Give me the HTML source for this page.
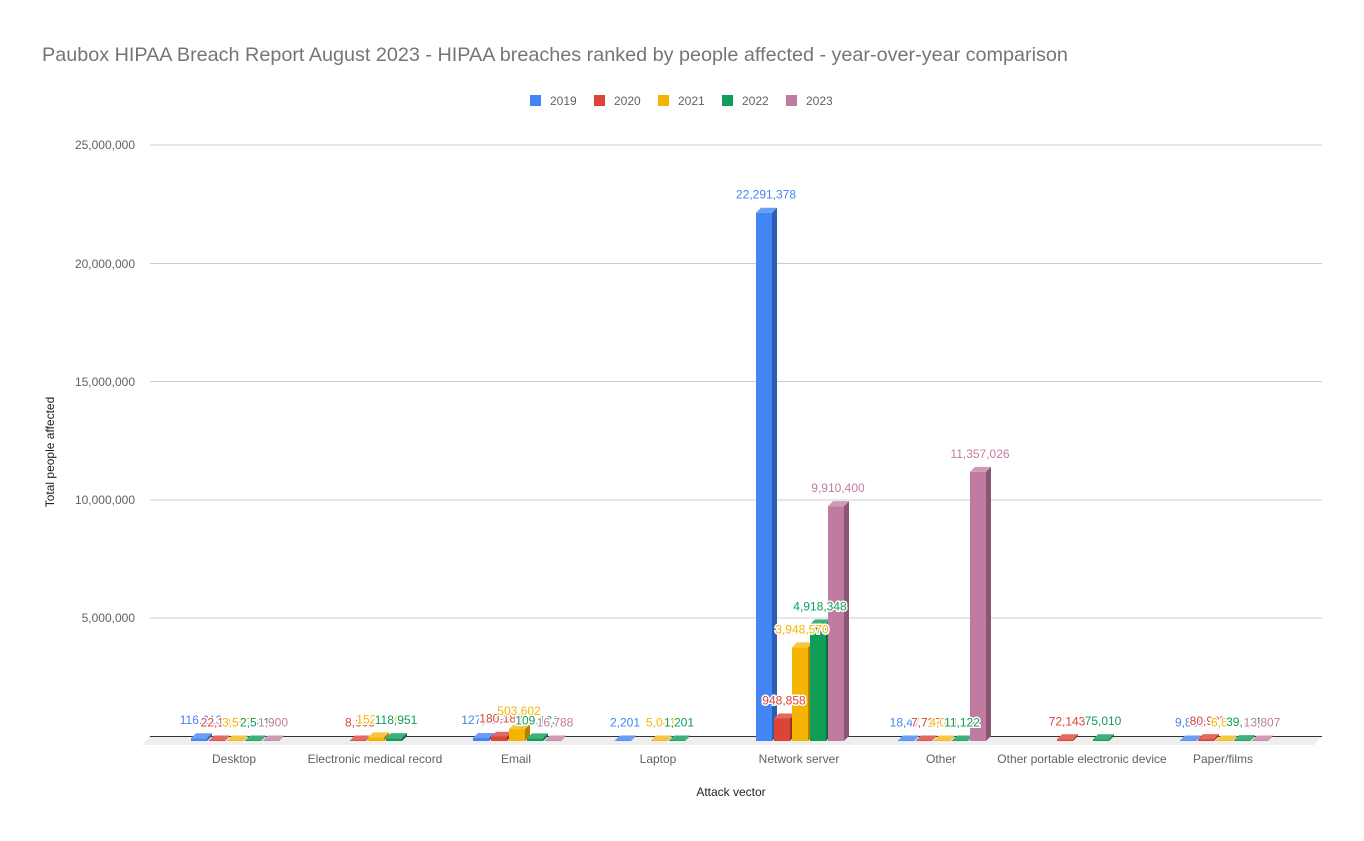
<!DOCTYPE html>
<html><head><meta charset="utf-8"><style>
html,body{margin:0;padding:0;background:#fff;width:1364px;height:841px;overflow:hidden}
svg{display:block;font-family:"Liberation Sans",Arial,sans-serif}
</style></head><body>
<svg id="s" width="1364" height="841" xmlns="http://www.w3.org/2000/svg">
<rect width="1364" height="841" fill="#fff"/>
<text x="42" y="61" font-size="19.8" fill="#757575">Paubox HIPAA Breach Report August 2023 - HIPAA breaches ranked by people affected - year-over-year comparison</text>
<g font-size="12" fill="#616161">
<rect x="530" y="95" width="11" height="11" fill="#4285f4"/><text x="550" y="105">2019</text>
<rect x="594" y="95" width="11" height="11" fill="#db4437"/><text x="614" y="105">2020</text>
<rect x="658" y="95" width="11" height="11" fill="#f4b400"/><text x="678" y="105">2021</text>
<rect x="722" y="95" width="11" height="11" fill="#0f9d58"/><text x="742" y="105">2022</text>
<rect x="786" y="95" width="11" height="11" fill="#c27ba0"/><text x="806" y="105">2023</text>
</g>
<g stroke="#cccccc" stroke-width="1">
<line x1="150" y1="145" x2="1322" y2="145"/><line x1="150" y1="263.5" x2="1322" y2="263.5"/>
<line x1="150" y1="381.5" x2="1322" y2="381.5"/><line x1="150" y1="500" x2="1322" y2="500"/>
<line x1="150" y1="618" x2="1322" y2="618"/>
</g>
<g font-size="12" fill="#616161" text-anchor="end">
<text x="135" y="149">25,000,000</text><text x="135" y="268">20,000,000</text>
<text x="135" y="386">15,000,000</text><text x="135" y="504">10,000,000</text>
<text x="135" y="622">5,000,000</text>
</g>
<polygon points="150,736 1322,736 1314,745 142,745" fill="#eeeeee"/>
<line x1="150" y1="736.5" x2="1322" y2="736.5" stroke="#333" stroke-width="1"/>
<g id="bars"></g>
<g font-size="12" fill="#616161" text-anchor="middle">
<text x="234" y="763">Desktop</text><text x="375" y="763">Electronic medical record</text>
<text x="516" y="763">Email</text><text x="658" y="763">Laptop</text>
<text x="799" y="763">Network server</text><text x="941" y="763">Other</text>
<text x="1082" y="763">Other portable electronic device</text><text x="1223" y="763">Paper/films</text>
<text x="731" y="796" fill="#222">Attack vector</text>
</g>
<text transform="translate(54,452) rotate(-90)" font-size="12" fill="#222" text-anchor="middle">Total people affected</text>
</svg>
<script>
var cols=["#4285f4","#db4437","#f4b400","#0f9d58","#c27ba0"];
var side=["#2f5eb0","#9c3027","#b08200","#0a6e3e","#8a5772"];
var topc=["#6a9ef6","#e26a60","#f6c640","#3fb07a","#d09ab7"];
var d=[
[116213,22135,3552,2581,1900],
[null,8605,152104,118951,null],
[127133,180183,503602,109123,16788],
[2201,null,5041,1201,null],
[22291378,948858,3948570,4918348,9910400],
[18477,7727,4011,11122,11357026],
[null,72143,null,75010,null],
[9880,80925,6839,39211,13807]];
var centers=[236,377,518,660,801,943,1084,1225];
var g=document.getElementById("bars"),h="",lab="";
d.forEach(function(row,i){
 var x0=centers[i]-45;
 row.forEach(function(v,j){
  if(v===null)return;
  var x=x0+j*18,w=16,base=741,hh=Math.max(v*23.7/1e6,0.5),t=base-hh;
  h+='<rect x="'+x+'" y="'+t+'" width="'+w+'" height="'+hh+'" fill="'+cols[j]+'"/>';
  h+='<polygon points="'+(x+w)+','+t+' '+(x+w+5)+','+(t-5)+' '+(x+w+5)+','+(base-5)+' '+(x+w)+','+base+'" fill="'+side[j]+'"/>';
  h+='<polygon points="'+x+','+t+' '+(x+5)+','+(t-5)+' '+(x+w+5)+','+(t-5)+' '+(x+w)+','+t+'" fill="'+topc[j]+'"/>';
  var s=v.toLocaleString("en-US");
  lab+='<text x="'+(x+10)+'" y="'+(t-14)+'" font-size="12" text-anchor="middle" fill="'+cols[j]+'" stroke="#fff" stroke-width="3" paint-order="stroke">'+s+'</text>';
 });
});
g.innerHTML=h+lab;
</script>
</body></html>
